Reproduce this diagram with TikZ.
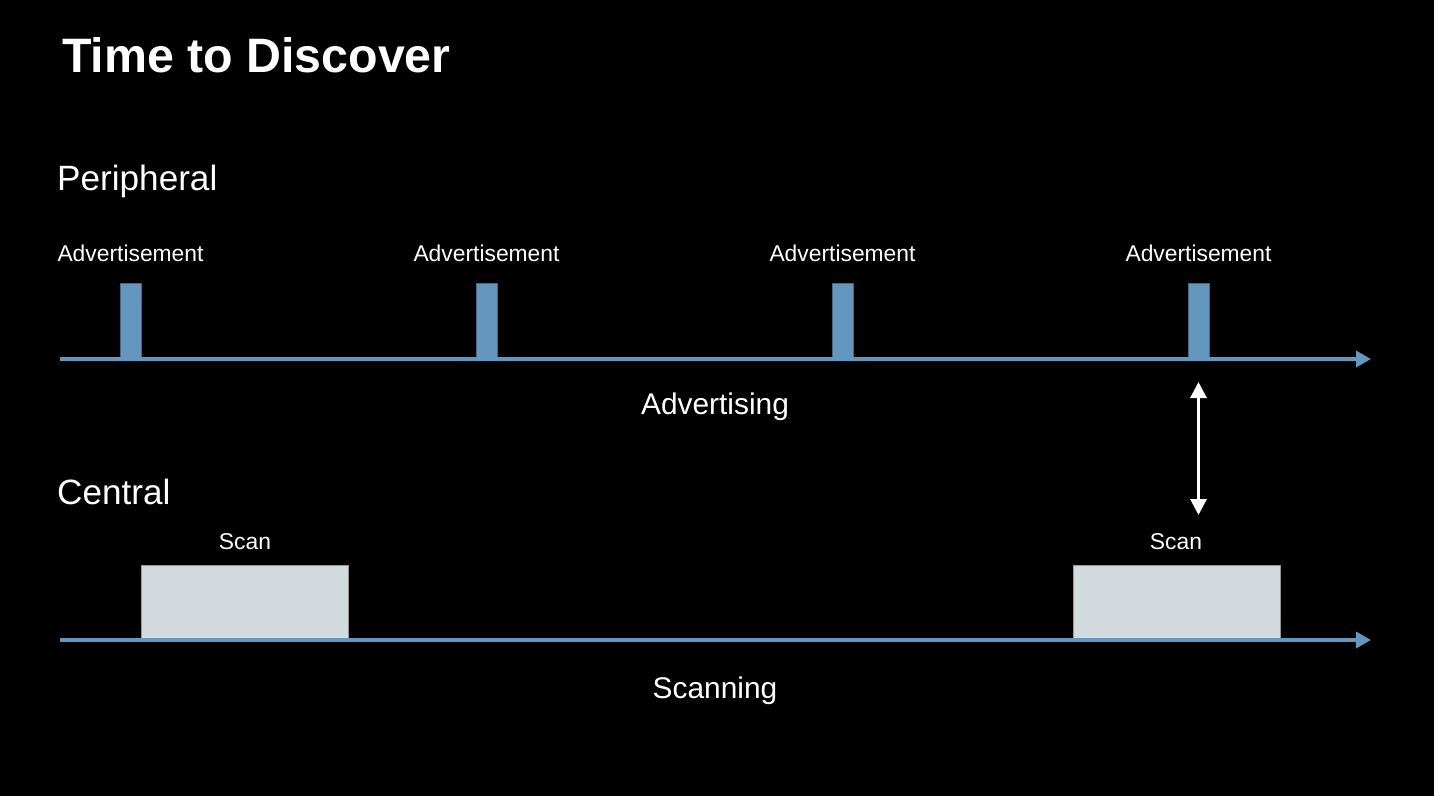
\documentclass[tikz,border=0pt]{standalone}
\usepackage{fontspec}
\setmainfont{Liberation Sans}
\usetikzlibrary{arrows.meta}
\definecolor{advblue}{RGB}{99,151,190}
\definecolor{scangray}{RGB}{210,218,222}

\begin{document}
\begin{tikzpicture}[
		x=0.02cm, y=-0.02cm,
		every node/.style={text=white},
		pulse/.style={fill=advblue, draw=advblue!70!black, line width=0.4pt, inner sep=0pt, minimum width=0.42cm, minimum height=1.48cm, anchor=south},
		window/.style={fill=scangray, draw=scangray!70!black, line width=0.4pt, inner sep=0pt, minimum width=4.14cm, minimum height=1.48cm, anchor=south},
		axis/.style={draw=advblue, line width=0.07cm, -{Triangle[length=0.3cm,width=0.32cm]}},
		small/.style={font=\fontsize{13}{15}\selectfont},
		caption/.style={font=\fontsize{17}{20}\selectfont},
		role/.style={font=\fontsize{20}{24}\selectfont, anchor=west}
	]
	% background
	\fill[black] (0,0) rectangle (1434,796);
	\useasboundingbox (0,0) rectangle (1434,796);

	% title
	\node[anchor=west, font=\fontsize{27.5}{32}\selectfont\bfseries] (title) at (56,55) {Time to Discover};

	% Peripheral
	\node[role] (peri) at (51,181) {Peripheral};
	\node[pulse] (p1) at (130.5,358) {};
	\node[pulse] (p2) at (486.5,358) {};
	\node[pulse] (p3) at (842.5,358) {};
	\node[pulse] (p4) at (1198.5,358) {};
	\node[small] (a1) at (130.5,253) {Advertisement};
	\node[small] (a2) at (486.5,253) {Advertisement};
	\node[small] (a3) at (842.5,253) {Advertisement};
	\node[small] (a4) at (1198.5,253) {Advertisement};
	\coordinate (advstart) at (60,359);
	\coordinate (advend) at (1371,359);
	\draw[axis] (advstart) -- (advend);
	\node[caption] (advlabel) at (715,407) {Advertising};

	% Central
	\node[role] (central) at (51,492) {Central};
	\node[window] (s1) at (244.5,640) {};
	\node[window] (s2) at (1176.5,640) {};
	\node[small] (sl1) at (245,542) {Scan};
	\node[small] (sl2) at (1176,542) {Scan};
	\coordinate (scanstart) at (60,640);
	\coordinate (scanend) at (1371,640);
	\draw[axis] (scanstart) -- (scanend);
	\node[caption] (scanlabel) at (715,691) {Scanning};

	% overlap
	\coordinate (hit1) at (1198.5,382);
	\coordinate (hit2) at (1198.5,515);
	\draw[white, line width=0.06cm, {Triangle[length=0.32cm,width=0.32cm]}-{Triangle[length=0.32cm,width=0.32cm]}] (hit1) -- (hit2);

\end{tikzpicture}
\end{document}
